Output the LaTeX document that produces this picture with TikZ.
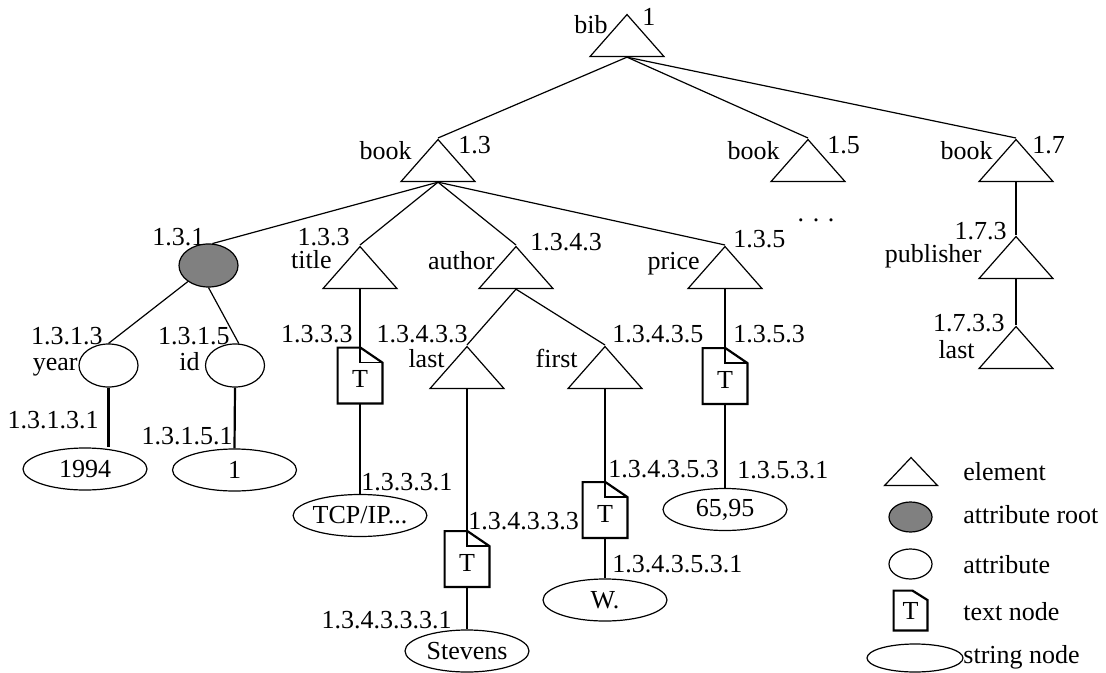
\documentclass[tikz,border=0pt]{standalone}
\usepackage{fontspec}
\setmainfont{Liberation Serif}
\usetikzlibrary{shapes.geometric}
\definecolor{rootgray}{RGB}{128,128,128}
\begin{document}
\begin{tikzpicture}[
    x=0.5pt, y=-0.5pt,
    every node/.style={font=\fontsize{13}{15}\selectfont},
    element/.style={isosceles triangle, isosceles triangle stretches, shape border rotate=90, draw, line width=0.6pt, inner sep=0pt, minimum width=37pt, minimum height=21pt, anchor=apex},
    smallelement/.style={element, minimum width=26.5pt, minimum height=14pt},
    attr/.style={ellipse, draw, fill=white, line width=0.6pt, inner sep=0pt, minimum width=29.5pt, minimum height=21.5pt},
    attrroot/.style={attr, fill=rootgray},
    strnode/.style={ellipse, draw, line width=0.6pt, inner sep=0pt, minimum width=62pt, minimum height=21pt},
    docshape/.style n args={4}{inner sep=0pt, minimum width=#1, minimum height=#2,
        append after command={\pgfextra{\draw[line width=1.1pt] (\tikzlastnode.north west) -- ([xshift=-#3]\tikzlastnode.north east) -- ([yshift=-#4]\tikzlastnode.north east) -- (\tikzlastnode.south east) -- (\tikzlastnode.south west) -- cycle;}}},
    textdoc/.style={docshape={22pt}{27.5pt}{11pt}{7.5pt}, text height=12pt,
        append after command={\pgfextra{\draw[line width=0.8pt] (\tikzlastnode.north) -- ++(0pt,-7.5pt) -- ([yshift=-7.5pt]\tikzlastnode.north east);}}},
    lbl/.style={inner sep=0pt},
    link/.style={line width=0.6pt},
    thicklink/.style={line width=1.1pt}
]
    \useasboundingbox (0,0) rectangle (1106,673);

    \node[element] (bib) at (627,13) {};
    \node[element] (book13) at (438,138) {};
    \node[element] (book15) at (808,138) {};
    \node[element] (book17) at (1016,138) {};
    \node[element] (title) at (360,245) {};
    \node[element] (author) at (516,245) {};
    \node[element] (price) at (725,245) {};
    \node[element] (last) at (467,345) {};
    \node[element] (first) at (605,345) {};
    \node[element] (publisher) at (1016,235) {};
    \node[element] (publast) at (1016,325) {};

    \node[attrroot] (attroot) at (208.5,265.5) {};
    \node[attr] (year) at (108.5,365.5) {};
    \node[attr] (id) at (235,365.5) {};
    \node[strnode] (s1994) at (85,469) {1994};
    \node[strnode] (sone) at (234.5,470) {1};

    \node[textdoc] (ttitle) at (360,375.5) {T};
    \node[strnode] (stcp) at (360,515.5) {TCP/IP...};
    \node[textdoc] (tlast) at (467,559) {T};
    \node[strnode] (sstevens) at (467,651) {Stevens};
    \node[textdoc] (tfirst) at (605,510) {T};
    \node[strnode] (sw) at (605,600) {W.};
    \node[textdoc] (tprice) at (725,376) {T};
    \node[strnode] (sprice) at (725,509.5) {65,95};

    \node[lbl, anchor=base east] (nbib) at (608,34) {bib};
    \node[lbl, anchor=base west] (pbib) at (642,26) {1};
    \node[lbl, anchor=base east] (nbook13) at (412,160) {book};
    \node[lbl, anchor=base west] (pbook13) at (458,154) {1.3};
    \node[lbl, anchor=base east] (nbook15) at (780,160) {book};
    \node[lbl, anchor=base west] (pbook15) at (827,154) {1.5};
    \node[lbl, anchor=base east] (nbook17) at (993,160) {book};
    \node[lbl, anchor=base west] (pbook17) at (1032,154) {1.7};
    \node[lbl, anchor=base] (more) at (816,222) {. . .};
    \node[lbl, anchor=base west] (pattroot) at (152,246) {1.3.1};
    \node[lbl, anchor=base east] (ptitle) at (350,246) {1.3.3};
    \node[lbl, anchor=base east] (ntitle) at (332,269) {title};
    \node[lbl, anchor=base east] (nauthor) at (495,270) {author};
    \node[lbl, anchor=base west] (pauthor) at (530,251) {1.3.4.3};
    \node[lbl, anchor=base east] (nprice) at (700,270) {price};
    \node[lbl, anchor=base west] (pprice) at (733,248) {1.3.5};
    \node[lbl, anchor=base east] (ppublisher) at (1007,240) {1.7.3};
    \node[lbl, anchor=base east] (npublisher) at (982,263) {publisher};
    \node[lbl, anchor=base east] (ppublast) at (1005,331) {1.7.3.3};
    \node[lbl, anchor=base east] (npublast) at (975,358) {last};
    \node[lbl, anchor=base east] (pyear) at (103,344) {1.3.1.3};
    \node[lbl, anchor=base east] (nyear) at (78,370) {year};
    \node[lbl, anchor=base east] (pid) at (230,344) {1.3.1.5};
    \node[lbl, anchor=base east] (nid) at (200,370) {id};
    \node[lbl, anchor=base east] (p1994) at (99,428) {1.3.1.3.1};
    \node[lbl, anchor=base east] (pone) at (233,444) {1.3.1.5.1};
    \node[lbl, anchor=base east] (pttitle) at (353,343) {1.3.3.3};
    \node[lbl, anchor=base west] (ptcp) at (361,490) {1.3.3.3.1};
    \node[lbl, anchor=base east] (plast) at (468,343) {1.3.4.3.3};
    \node[lbl, anchor=base east] (nlast) at (445,367) {last};
    \node[lbl, anchor=base west] (pfirst) at (612,343) {1.3.4.3.5};
    \node[lbl, anchor=base east] (nfirst) at (578,367) {first};
    \node[lbl, anchor=base west] (ptlast) at (468,529) {1.3.4.3.3.3};
    \node[lbl, anchor=base east] (pstevens) at (452,628) {1.3.4.3.3.3.1};
    \node[lbl, anchor=base west] (ptfirst) at (608,477) {1.3.4.3.5.3};
    \node[lbl, anchor=base west] (pw) at (612,572) {1.3.4.3.5.3.1};
    \node[lbl, anchor=base west] (ptprice) at (733,343) {1.3.5.3};
    \node[lbl, anchor=base west] (psprice) at (737,478) {1.3.5.3.1};

    \draw[link] (bib.south) -- (book13.apex);
    \draw[link] (bib.south) -- (book15.apex);
    \draw[link] (bib.south) -- (book17.apex);
    \draw[link] (book13.south) -- (attroot.80);
    \draw[link] (book13.south) -- (title.apex);
    \draw[link] (book13.south) -- (author.apex);
    \draw[link] (book13.south) -- (price.apex);
    \draw[link] (attroot) -- (year.north);
    \draw[link] (attroot.south) -- (id.80);
    \draw[thicklink] (year.south) -- (year.south |- s1994.north);
    \draw[thicklink] (id.south) -- (sone.north);
    \draw[link] (title.south) -- (ttitle.north);
    \draw[link] (ttitle.south) -- (stcp.north);
    \draw[link] (author.south) -- (last.apex);
    \draw[link] (author.south) -- (first.apex);
    \draw[thicklink] (last.south) -- (tlast.north);
    \draw[thicklink] (tlast.south) -- (sstevens.north);
    \draw[link] (first.south) -- (tfirst.north);
    \draw[link] (tfirst.south) -- (sw.north);
    \draw[link] (price.south) -- (tprice.north);
    \draw[link] (tprice.south) -- (sprice.north);
    \draw[thicklink] (book17.south) -- (publisher.apex);
    \draw[thicklink] (publisher.south) -- (publast.apex);

    \node[smallelement] (legelement) at (911,456) {};
    \node[attrroot, minimum width=21.5pt, minimum height=15pt] (legroot) at (910.5,517) {};
    \node[attr, minimum width=21.5pt, minimum height=15pt] (legattr) at (910.5,564) {};
    \node[docshape={16.5pt}{19.5pt}{7.5pt}{4.7pt}] (legdoc) at (910.5,610.5) {T};
    \node[strnode, minimum width=48pt, minimum height=14pt] (legstr) at (915,658) {};
    \node[lbl, anchor=base west] (telement) at (963,480) {element};
    \node[lbl, anchor=base west] (troot) at (963,523) {attribute root};
    \node[lbl, anchor=base west] (tattr) at (963,573) {attribute};
    \node[lbl, anchor=base west] (tdoc) at (963,620) {text node};
    \node[lbl, anchor=base west] (tstr) at (963,663) {string node};
\end{tikzpicture}
\end{document}
